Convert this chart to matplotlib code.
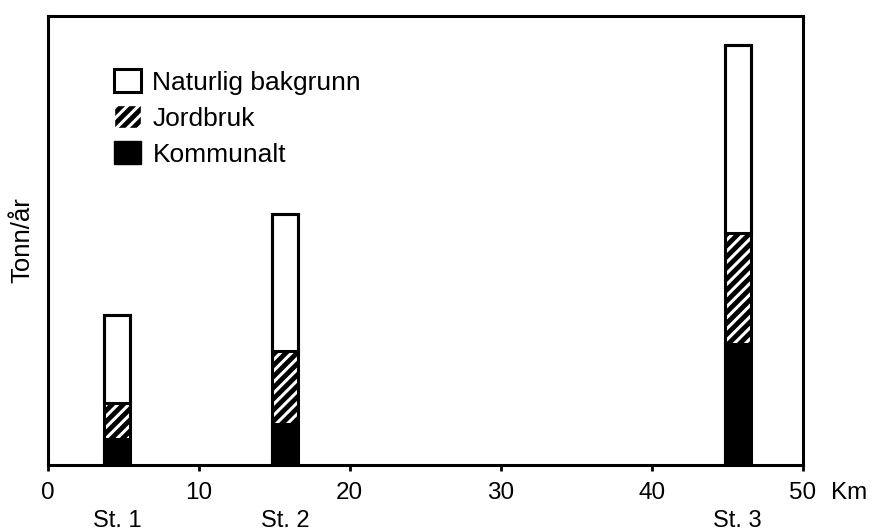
import matplotlib.pyplot as plt
import matplotlib.transforms as mtransforms
from matplotlib.patches import Patch
import numpy as np

plt.rcParams['font.family'] = ['Liberation Sans', 'DejaVu Sans']
plt.rcParams['hatch.linewidth'] = 2.2

stations = ['St. 1', 'St. 2', 'St. 3']
km = [4.6, 15.7, 45.7]
kommunalt = [27, 42, 122]
jordbruk = [35, 72, 110]
naturlig = [88, 137, 188]
xticks = [0, 10, 20, 30, 40, 50]

kommunalt = np.array(kommunalt)
jordbruk = np.array(jordbruk)
naturlig = np.array(naturlig)
barw = 1.75

fig = plt.figure(figsize=(8.85, 5.31), dpi=100)
ax = fig.add_axes([0.054, 0.124, 0.853, 0.846])

ax.bar(km, kommunalt, width=barw, color='black', edgecolor='black', linewidth=1.5)
ax.bar(km, jordbruk, bottom=kommunalt, width=barw, color='black',
       edgecolor='white', hatch='///', linewidth=0)
ax.bar(km, naturlig, bottom=kommunalt + jordbruk, width=barw, color='white',
       edgecolor='black', linewidth=2.2)
# outline around the whole stack
ax.bar(km, kommunalt + jordbruk + naturlig, width=barw, fill=False,
       edgecolor='black', linewidth=2.2)

ax.set_xlim(0, 50)
ax.set_ylim(0, 449)
ax.set_xticks(xticks)
ax.set_xticklabels([str(t) for t in xticks], fontsize=17.5)
ax.set_yticks([])
ax.tick_params(axis='x', direction='out', length=4, width=2, pad=8)
for s in ax.spines.values():
    s.set_linewidth(2.2)

ax.set_ylabel('Tonn/år', fontsize=18.5, labelpad=10)

trans = mtransforms.blended_transform_factory(ax.transData, ax.transAxes)
for x, name in zip(km, stations):
    ax.text(x, -0.125, name, transform=trans, ha='center', va='center', fontsize=17)
ax.text(51.9, -0.063, 'Km', transform=trans, ha='left', va='center', fontsize=17.5,
        clip_on=False)

handles = [Patch(facecolor='white', edgecolor='black', linewidth=2.2),
           Patch(facecolor='black', edgecolor='white', hatch='///'),
           Patch(facecolor='black', edgecolor='black')]
ax.legend(handles, ['Naturlig bakgrunn', 'Jordbruk', 'Kommunalt'],
          loc='upper left', bbox_to_anchor=(0.074, 0.905), frameon=False,
          fontsize=19, handlelength=1.0, handleheight=0.95, handletextpad=0.45,
          labelspacing=0.4, borderaxespad=0)

fig.savefig('out.png', dpi=100)
